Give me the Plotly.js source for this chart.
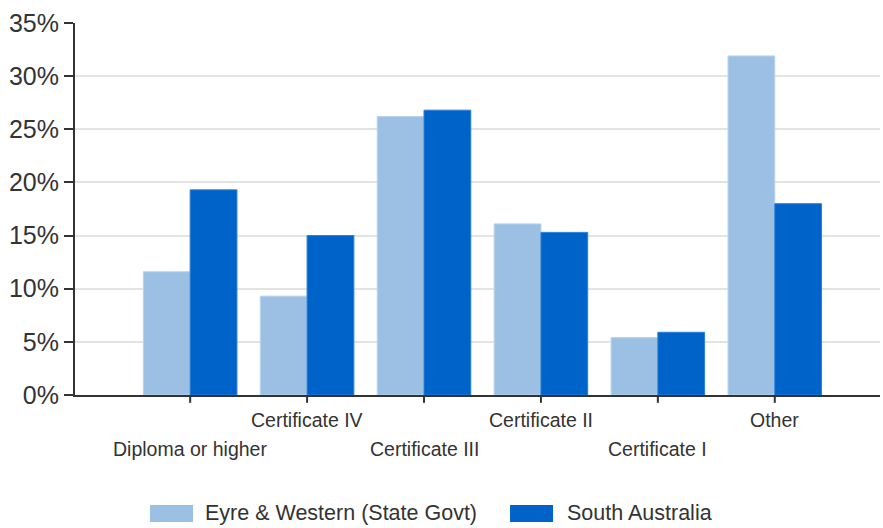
<!DOCTYPE html>
<html>
<head>
<meta charset="utf-8">
<script src="https://cdn.plot.ly/plotly-3.0.1.min.js"></script>
<style>html,body{margin:0;padding:0;background:#fff;}#chart{width:883px;height:528px;}</style>
</head>
<body>
<div id="chart"></div>
<script>
const categories = ["Diploma or higher", "Certificate IV", "Certificate III", "Certificate II", "Certificate I", "Other"];
const seriesNames = ["Eyre & Western (State Govt)", "South Australia"];
const eyreWestern = [11.6, 9.3, 26.2, 16.1, 5.4, 31.9];
const southAustralia = [19.3, 15.0, 26.8, 15.3, 5.9, 18.0];
const yTickVals = [0, 5, 10, 15, 20, 25, 30, 35];
const yTickText = ["0%", "5%", "10%", "15%", "20%", "25%", "30%", "35%"];
const colors = ["#9bc0e4", "#0063c9"];
const lineColors = ["#b8d3ee", "#2a7fd6"];

const font = "Liberation Sans, Arial, sans-serif";
const textColor = "#333333";

const traces = [eyreWestern, southAustralia].map((vals, i) => ({
  type: "bar",
  name: seriesNames[i],
  x: categories,
  y: vals,
  marker: {color: colors[i], line: {color: lineColors[i], width: 1}},
  hoverinfo: "x+y"
}));

const annotations = categories.map((c, i) => ({
  x: c, xref: "x", yref: "paper",
  y: i % 2 === 0 ? -0.112 : -0.034,
  yanchor: "top", xanchor: "center",
  text: c, showarrow: false, borderpad: 0,
  font: {family: font, size: 19.5, color: textColor}
}));

// custom legend
const legendPos = [{x0: 0.0932, x1: 0.1466, tx: 0.1590}, {x0: 0.5404, x1: 0.5938, tx: 0.6087}];
const shapes = legendPos.map((p, i) => ({
  type: "rect", xref: "paper", yref: "paper",
  x0: p.x0, x1: p.x1, y0: -0.2957, y1: -0.3414,
  fillcolor: colors[i], line: {width: 0}
}));
legendPos.forEach((p, i) => annotations.push({
  x: p.tx, y: -0.3185, xref: "paper", yref: "paper",
  xanchor: "left", yanchor: "middle", showarrow: false,
  text: seriesNames[i],
  font: {family: font, size: 21.5, color: textColor}
}));

// x-axis tick marks at each category centre
categories.forEach((c, i) => shapes.push({
  type: "line", xref: "x", yref: "paper",
  x0: i, x1: i, y0: 0, y1: -0.021,
  line: {color: "#333333", width: 2}
}));

const layout = {
  width: 883, height: 528,
  margin: {l: 75, r: 3, t: 23, b: 133},
  paper_bgcolor: "#ffffff", plot_bgcolor: "#ffffff",
  showlegend: false,
  barmode: "group", bargap: 0.2, bargroupgap: 0,
  font: {family: font, color: textColor},
  xaxis: {
    type: "category", range: [-0.985, 5.9],
    showticklabels: false, ticks: "",
    showline: true, linecolor: "#333333", linewidth: 2, showgrid: false, zeroline: false
  },
  yaxis: {
    range: [0, 35], tickvals: yTickVals, ticktext: yTickText,
    ticks: "outside", ticklen: 9, tickwidth: 2, tickcolor: "#333333",
    showline: true, linecolor: "#333333", linewidth: 2,
    gridcolor: "#e3e3e3", gridwidth: 2, zeroline: false,
    tickfont: {family: font, size: 25, color: textColor}
  },
  annotations: annotations,
  shapes: shapes
};

Plotly.newPlot("chart", traces, layout, {displayModeBar: false, staticPlot: true});
</script>
</body>
</html>
